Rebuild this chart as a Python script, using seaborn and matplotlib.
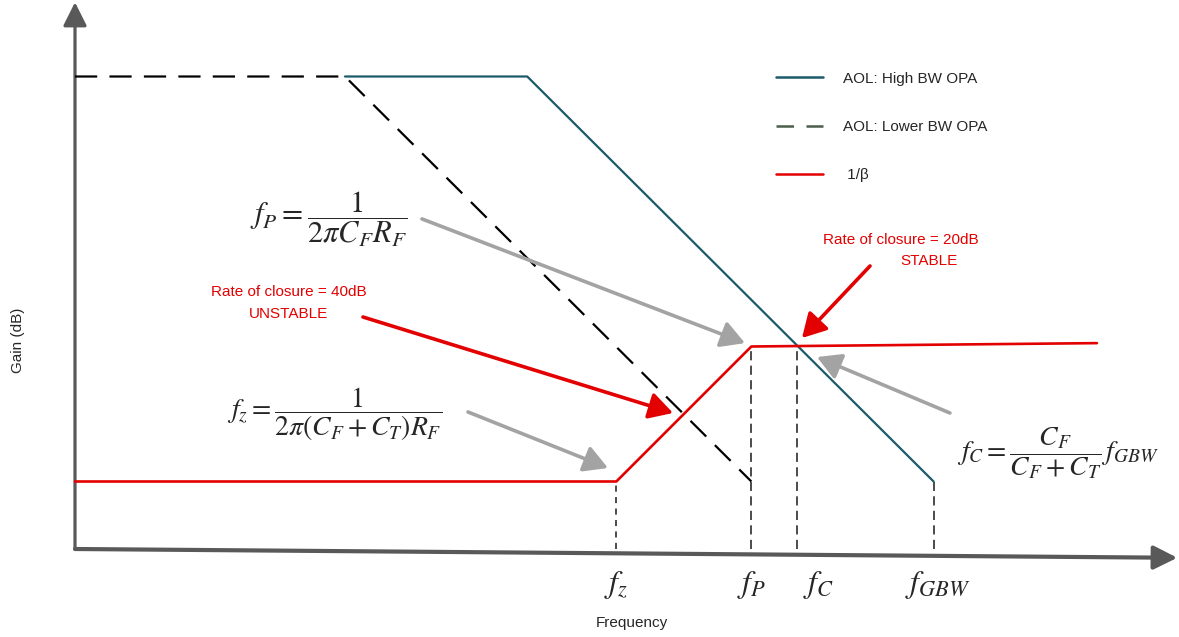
import numpy as np
import pandas as pd
import matplotlib
matplotlib.use("Agg")
import matplotlib.pyplot as plt
from matplotlib.lines import Line2D
import seaborn as sns

# Bode sketch: x = log10(f) in decades from the origin, y = gain in dB
freq_high = [2.0, 3.35, 6.36]          # AOL of the high-bandwidth op amp
gain_high = [70.0, 70.0, 10.0]
freq_low = [0.0, 2.0, 5.01]            # AOL of the lower-bandwidth op amp
gain_low = [70.0, 70.0, 10.0]
freq_beta = [0.0, 4.01, 5.01, 7.57]    # noise gain 1/beta
gain_beta = [10.0, 10.0, 30.0, 30.5]

marker_names = [r"$f_z$", r"$f_P$", r"$f_C$", r"$f_{GBW}$"]
marker_freqs = [4.01, 5.01, 5.35, 6.36]

legend_labels = ["AOL: High BW OPA", "AOL: Lower BW OPA", " 1/β"]

TEAL = "#1b5a69"
RED = "#e30000"
GREY_ARROW = "#a3a3a3"
AXIS = "#595959"

sns.set_theme(style="white")
plt.rcParams["font.family"] = ["Liberation Sans", "DejaVu Sans"]
plt.rcParams["mathtext.fontset"] = "stix"

fig = plt.figure(figsize=(11.79, 6.37), dpi=100)
ax = fig.add_axes([0, 0, 1, 1])
ax.set_xlim(-75 / 135, 1104 / 135)
ax.set_ylim(-88 * 20 / 135, 549 * 20 / 135)
ax.axis("off")

df_high = pd.DataFrame({"f": freq_high, "g": gain_high})
df_low = pd.DataFrame({"f": freq_low, "g": gain_low})
df_beta = pd.DataFrame({"f": freq_beta, "g": gain_beta})

sns.lineplot(data=df_high, x="f", y="g", ax=ax, color=TEAL, lw=1.6,
             sort=False, estimator=None, zorder=4)
sns.lineplot(data=df_low, x="f", y="g", ax=ax, color="black", lw=1.6,
             sort=False, estimator=None, dashes=False, zorder=3)
ax.lines[-1].set_dashes((10, 5.5))
sns.lineplot(data=df_beta, x="f", y="g", ax=ax, color=RED, lw=1.9,
             sort=False, estimator=None, zorder=5)

# vertical drop lines from each corner frequency to the axis
heights = [np.interp(marker_freqs[0], freq_beta, gain_beta),
           np.interp(marker_freqs[1], freq_beta, gain_beta),
           np.interp(marker_freqs[2], freq_beta, gain_beta),
           np.interp(marker_freqs[3], freq_high, gain_high)]
for i, (f, h) in enumerate(zip(marker_freqs, heights)):
    ln = ax.plot([f, f], [0, h], color="#1a1a1a", lw=1.1, zorder=2)[0]
    ln.set_dashes((4, 3.5) if i == 0 else (6, 3.5))

# axes drawn as arrows
ax.annotate("", xy=(0, 81.3 - 0.3), xytext=(0, 0),
            arrowprops=dict(arrowstyle="-|>,head_length=0.8,head_width=0.4",
                            color=AXIS, lw=2.3, mutation_scale=18,
                            shrinkA=0, shrinkB=0), zorder=1)
ax.annotate("", xy=(1178 / 135 - 75 / 135 - 0.005, -1.3), xytext=(0, 0),
            arrowprops=dict(arrowstyle="-|>,head_length=0.8,head_width=0.4",
                            color=AXIS, lw=3.0, mutation_scale=18,
                            shrinkA=0, shrinkB=0), zorder=1)

# frequency markers under the axis
label_shift = [0.0, 0.0, 0.155, 0.03]
for name, f, dx in zip(marker_names, marker_freqs, label_shift):
    ax.text(f + dx, -5.3, name, fontsize=23, ha="center", va="center")

ax.text(4.126, -10.96, "Frequency", fontsize=11, ha="center", va="center")
ax.text(-0.422, 30.96, "Gain (dB)", fontsize=11, ha="center", va="center",
        rotation=90)

# corner-frequency formulas
ax.text(2.46, 48.9, r"$f_P = \dfrac{1}{2\pi C_F R_F}$", fontsize=22,
        ha="right", va="center")
ax.text(2.72, 20.0, r"$f_z = \dfrac{1}{2\pi(C_F + C_T)R_F}$", fontsize=20,
        ha="right", va="center")
ax.text(6.53, 14.2, r"$f_C = \dfrac{C_F}{C_F + C_T}\,f_{GBW}$", fontsize=20,
        ha="left", va="center")

grey_kw = dict(arrowstyle="-|>,head_length=0.8,head_width=0.45",
               color=GREY_ARROW, lw=2.6, mutation_scale=18,
               shrinkA=0, shrinkB=0)
red_kw = dict(grey_kw, color=RED)
ax.annotate("", xy=(4.963, 30.5), xytext=(2.57, 48.9), arrowprops=grey_kw)
ax.annotate("", xy=(3.948, 12.0), xytext=(2.911, 20.3), arrowprops=grey_kw)
ax.annotate("", xy=(5.496, 28.44), xytext=(6.481, 20.15), arrowprops=grey_kw)
ax.annotate("", xy=(4.43, 20.15), xytext=(2.133, 34.37), arrowprops=red_kw)
ax.annotate("", xy=(5.385, 31.26), xytext=(5.889, 41.93), arrowprops=red_kw)

# rate-of-closure notes
ax.text(1.585, 38.07, "Rate of closure = 40dB", color=RED, fontsize=11,
        ha="center", va="center")
ax.text(1.585, 34.8, "UNSTABLE", color=RED, fontsize=11,
        ha="center", va="center")
ax.text(6.119, 45.8, "Rate of closure = 20dB", color=RED, fontsize=11,
        ha="center", va="center")
ax.text(6.326, 42.7, "STABLE", color=RED, fontsize=11,
        ha="center", va="center")

handles = [Line2D([], [], color=TEAL, lw=1.8),
           Line2D([], [], color="#4a5e4b", lw=1.8, dashes=(7, 5)),
           Line2D([], [], color=RED, lw=1.8)]
ax.legend(handles, legend_labels, loc="upper left",
          bbox_to_anchor=(762 / 1179, 1 - 58 / 637), frameon=False,
          fontsize=11, handlelength=3.1, handletextpad=1.3, labelspacing=2.25)

fig.savefig("out.png", dpi=100)
